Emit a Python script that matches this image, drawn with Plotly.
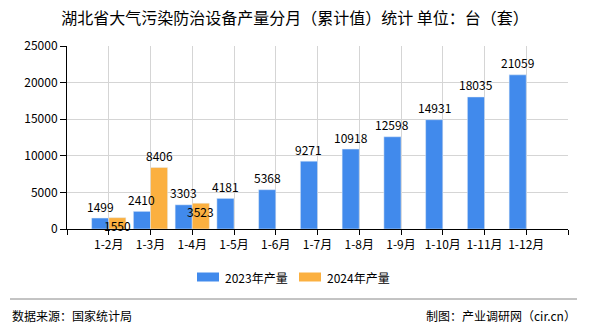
import plotly.graph_objects as go

categories = ["1-2月", "1-3月", "1-4月", "1-5月", "1-6月", "1-7月", "1-8月", "1-9月", "1-10月", "1-11月", "1-12月"]
v2023 = [1499, 2410, 3303, 4181, 5368, 9271, 10918, 12598, 14931, 18035, 21059]
v2024 = [1550, 8406, 3523, None, None, None, None, None, None, None, None]
y_ticks = [0, 5000, 10000, 15000, 20000, 25000]

BLUE = "#418AEC"
ORANGE = "#FBB040"
FONT = "Noto Sans CJK SC"
W, H = 590, 330
L, R, T, B = 67, 22, 46, 101

xs = list(range(1, len(categories) + 1))
bw = 0.41

fig = go.Figure()
fig.add_trace(go.Bar(x=xs, y=v2023, width=bw, offset=-bw, marker_color=BLUE, name="2023年产量"))
fig.add_trace(go.Bar(x=xs, y=v2024, width=bw, offset=0, marker_color=ORANGE, name="2024年产量"))

annotations = []
lab_font = dict(family=FONT, size=12, color="#000")
for x, v in zip(xs, v2023):
    annotations.append(dict(x=x - bw / 2, y=v, xref="x", yref="y", text=str(v),
                            showarrow=False, yanchor="middle", xanchor="center",
                            yshift=12, font=lab_font))
for x, v in zip(xs, v2024):
    if v is None:
        continue
    annotations.append(dict(x=x + bw / 2, y=v, xref="x", yref="y", text=str(v),
                            showarrow=False, yanchor="middle", xanchor="center",
                            yshift=12 if v > 5000 else -8, font=lab_font))

shapes = []
# custom legend
leg = [("2023年产量", BLUE, 197), ("2024年产量", ORANGE, 299)]
for name, col, x0 in leg:
    shapes.append(dict(type="rect", xref="paper", yref="paper",
                       x0=(x0 - L) / (W - L - R), x1=(x0 + 22 - L) / (W - L - R),
                       y0=-(272.5 - (H - B)) / (H - T - B), y1=-(281.5 - (H - B)) / (H - T - B),
                       fillcolor=col, line=dict(width=0)))
    annotations.append(dict(text=name, xref="paper", yref="paper",
                            x=(x0 + 26 - L) / (W - L - R), y=-(277 - (H - B)) / (H - T - B),
                            xanchor="left", yanchor="middle", showarrow=False,
                            font=dict(family=FONT, size=12, color="#000")))
# footer line
shapes.append(dict(type="line", xref="paper", yref="paper",
                   x0=(10 - L) / (W - L - R), x1=(577 - L) / (W - L - R),
                   y0=-(299 - (H - B)) / (H - T - B), y1=-(299 - (H - B)) / (H - T - B),
                   line=dict(color="#888", width=1)))
annotations.append(dict(text="数据来源：国家统计局", xref="paper", yref="paper",
                        x=(10 - L) / (W - L - R), y=-(315 - (H - B)) / (H - T - B),
                        xanchor="left", yanchor="middle", showarrow=False,
                        font=dict(family=FONT, size=12, color="#000")))
annotations.append(dict(text="制图：产业调研网（cir.cn）", xref="paper", yref="paper",
                        x=(578 - L) / (W - L - R), y=-(315 - (H - B)) / (H - T - B),
                        xanchor="right", yanchor="middle", showarrow=False,
                        font=dict(family=FONT, size=12, color="#000")))

fig.update_layout(
    width=W, height=H,
    margin=dict(l=L, r=R, t=T, b=B),
    paper_bgcolor="white", plot_bgcolor="white",
    barmode="group",
    showlegend=False,
    title=dict(text="湖北省大气污染防治设备产量分月（累计值）统计 单位：台（套）",
               x=0.5, xref="container", xanchor="center",
               y=1 - 18 / H, yref="container", yanchor="middle",
               font=dict(family=FONT, size=16, color="#000")),
    xaxis=dict(range=[0, len(categories) + 1],
               tickvals=list(range(0, len(categories) + 2)),
               ticktext=[""] + categories + [""],
               showgrid=True, gridcolor="#d5d5d5", gridwidth=1,
               showline=True, linecolor="#000", linewidth=1,
               ticks="outside", ticklen=5, tickcolor="#000",
               tickfont=dict(family=FONT, size=12, color="#000"),
               zeroline=False),
    yaxis=dict(range=[0, 25000], tickvals=y_ticks, ticktext=[str(v) for v in y_ticks],
               showgrid=True, gridcolor="#d5d5d5", gridwidth=1,
               showline=True, linecolor="#000", linewidth=1,
               ticks="outside", ticklen=6, tickcolor="#000",
               tickfont=dict(family=FONT, size=12, color="#000"),
               zeroline=False),
    shapes=shapes,
    annotations=annotations,
)

fig.write_html("out.html")
